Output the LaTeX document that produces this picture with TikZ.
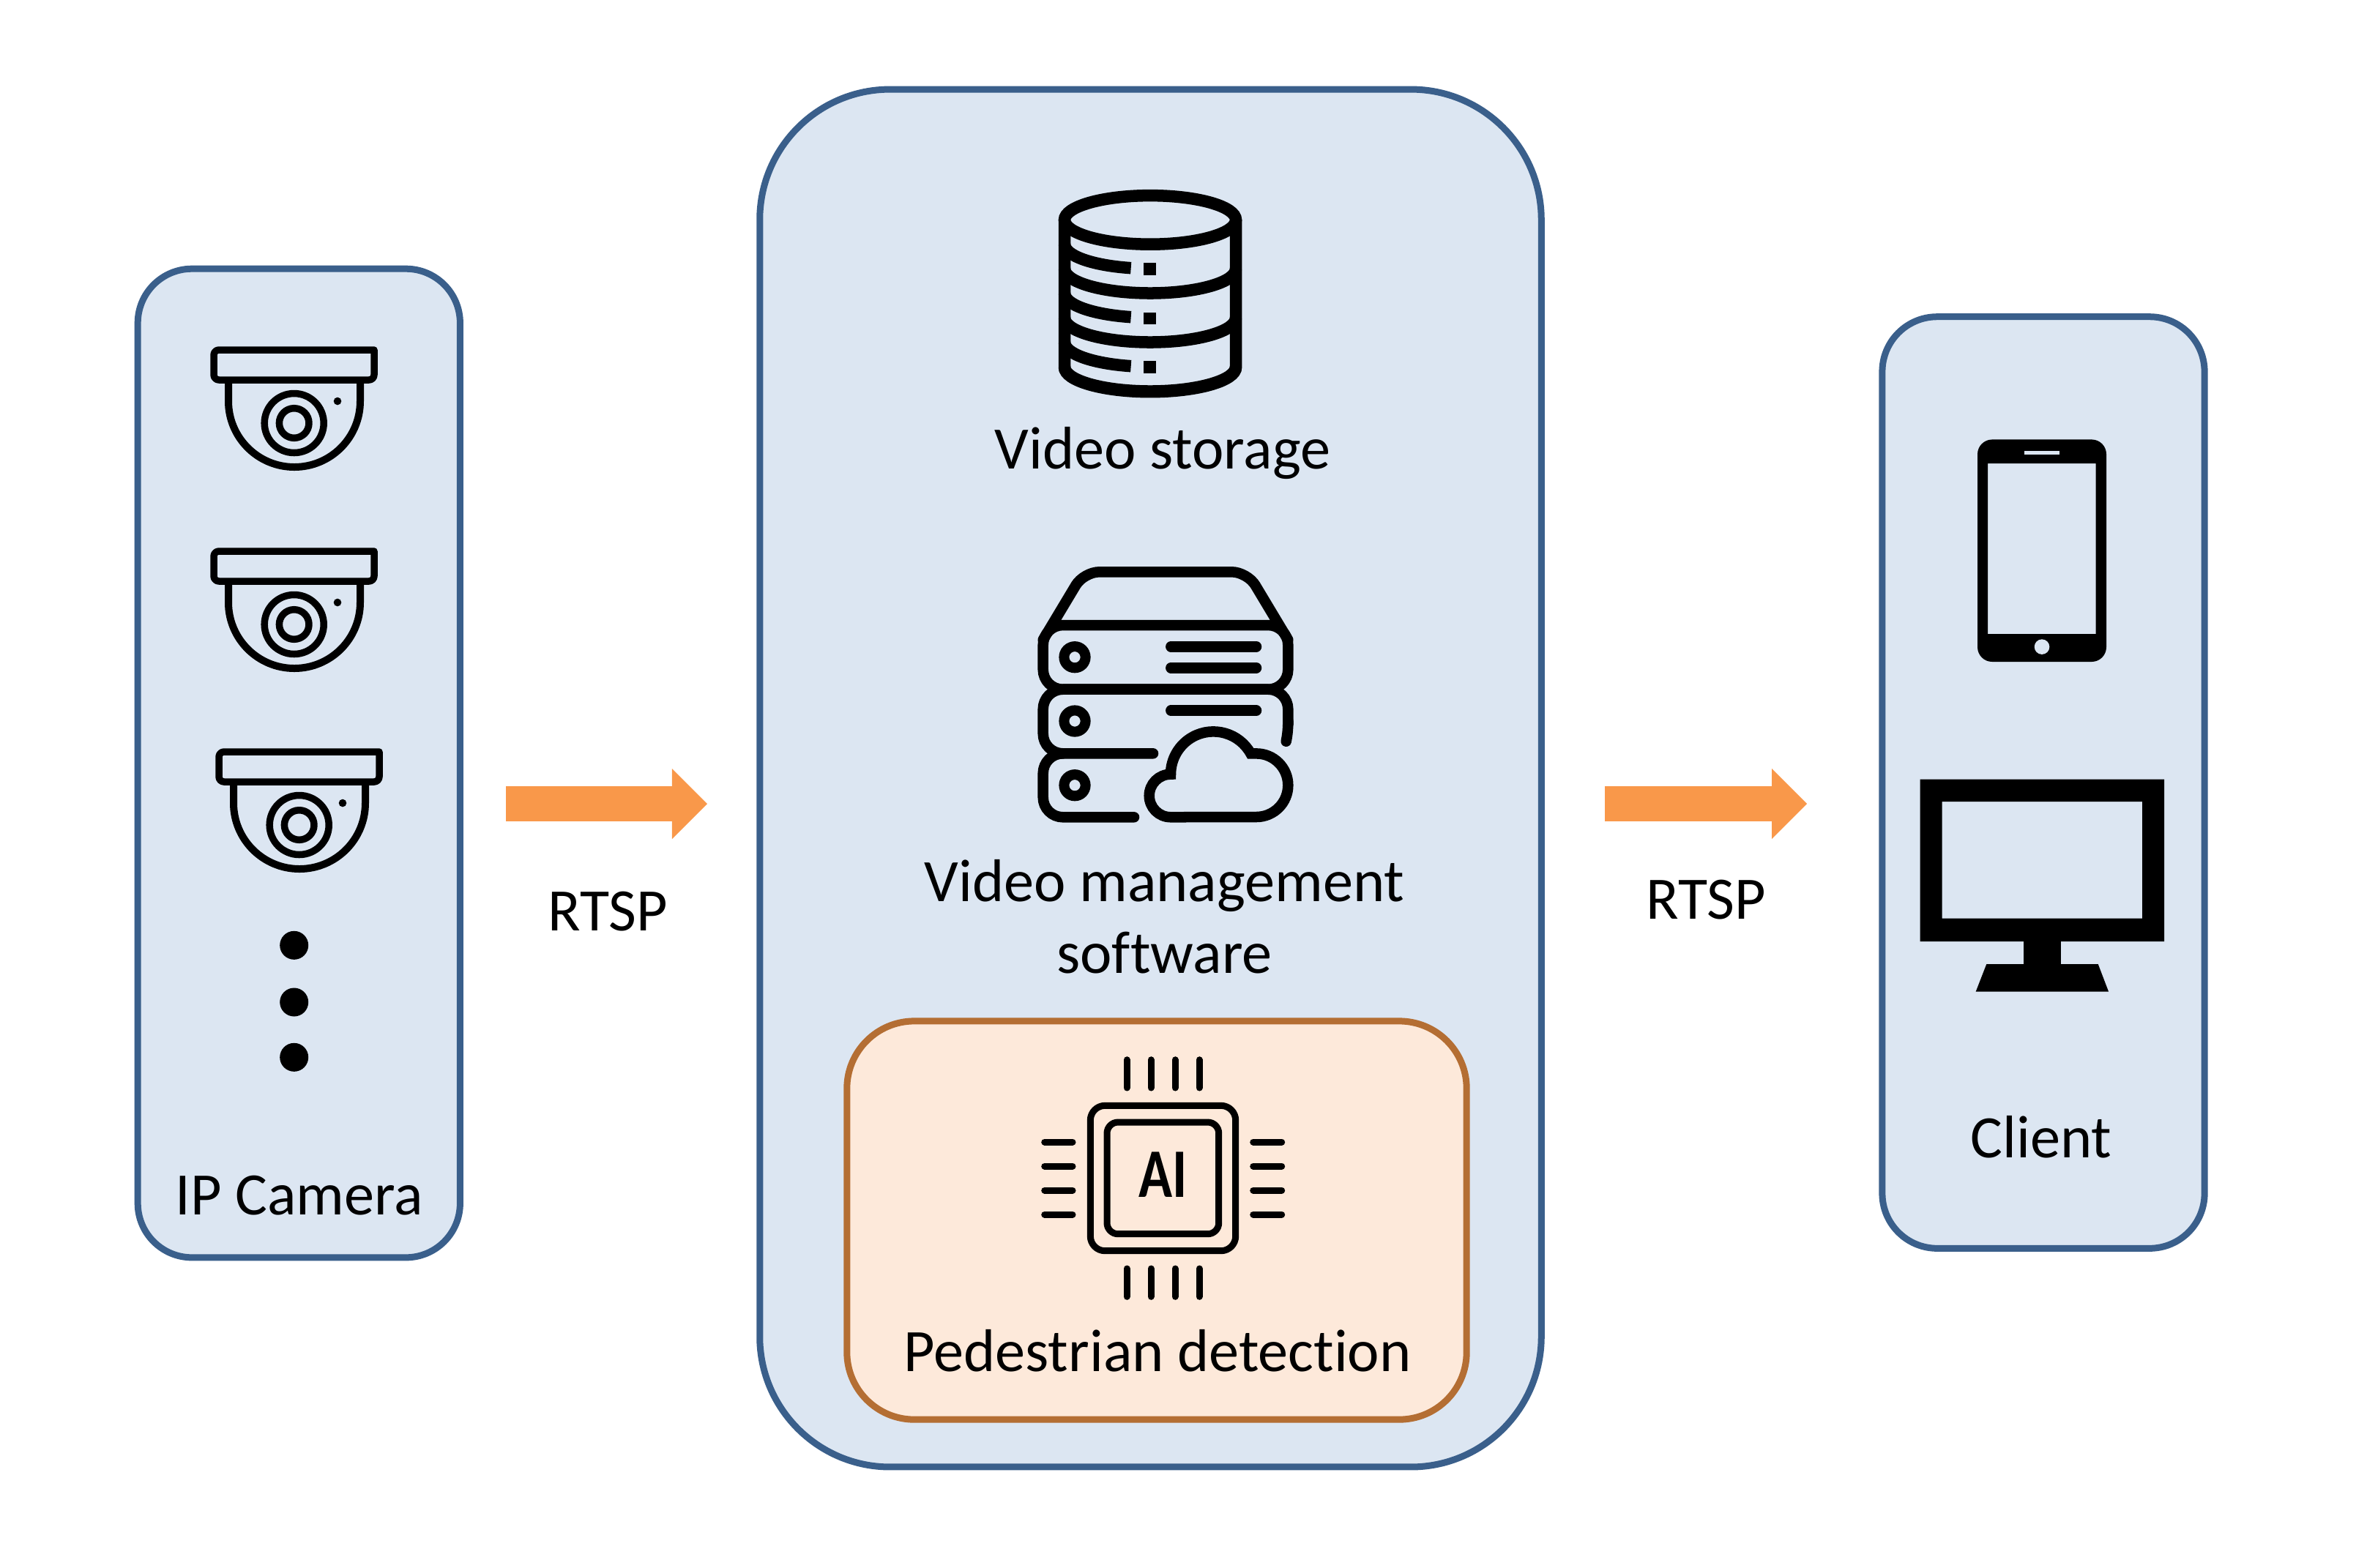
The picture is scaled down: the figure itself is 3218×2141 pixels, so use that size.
\documentclass[tikz,border=0pt]{standalone}
\usepackage{fontspec}
\setmainfont[Ligatures=CommonOff]{Carlito}
\usetikzlibrary{arrows.meta}
\newcommand{\px}{0.2845pt}
\definecolor{panelblue}{HTML}{3A5F8B}
\definecolor{panelfill}{HTML}{DCE6F2}
\definecolor{aiedge}{HTML}{B46E33}
\definecolor{aifill}{HTML}{FDE9DA}
\definecolor{rtsporange}{HTML}{F9984A}
\tikzset{
	panel/.style={draw=panelblue,fill=panelfill,line width=9*\px},
	aipanel/.style={draw=aiedge,fill=aifill,line width=9*\px},
	lbl/.style={font=\fontsize{23.4}{27.9}\selectfont,align=center,inner sep=0pt},
	icon/.style={line width=#1*\px,line cap=round,line join=round},
	flow/.style={draw=rtsporange,line width=48*\px,-{Triangle[length=48*\px,width=96*\px,line width=0pt]}}
}
\begin{document}
\begin{tikzpicture}[x=0.01cm,y=-0.01cm]
	\useasboundingbox (0,0) rectangle (3218,2141);
	% panels
	\node[panel,rounded corners=74*\px,minimum width=440*\px,minimum height=1350*\px] (cambox) at (408.3,1042.5) {};
	\node[panel,rounded corners=178*\px,minimum width=1067*\px,minimum height=1881*\px] (vmsbox) at (1571.5,1063) {};
	\node[aipanel,rounded corners=92*\px,minimum width=846*\px,minimum height=544*\px] (aibox) at (1580,1667) {};
	\node[panel,rounded corners=75*\px,minimum width=440*\px,minimum height=1272*\px] (clientbox) at (2791,1069) {};
	% arrows
	\coordinate (arrowAs) at (691,1098);
	\coordinate (arrowAe) at (966,1098);
	\coordinate (arrowBs) at (2192,1098);
	\coordinate (arrowBe) at (2468,1098);
	\draw[flow] (arrowAs) -- (arrowAe);
	\draw[flow] (arrowBs) -- (arrowBe);
	% labels
	\node[lbl] (camlabel) at (408.5,1633) {IP Camera};
	\node[lbl] (rtspA) at (830,1245) {RTSP};
	\node[lbl] (rtspB) at (2330,1229) {RTSP};
	\node[lbl] (storelabel) at (1588,618.5) {Video storage};
	\node[lbl] (vmslabel) at (1590.5,1252) {Video management\\software};
	\node[lbl] (pedlabel) at (1581,1845) {Pedestrian detection};
	\node[lbl] (clientlabel) at (2788,1553) {Client};
	% cameras
	\foreach \dx/\dy in {0/0,0/275,7/549}
		{\begin{scope}[shift={(\dx,\dy)}]
			\draw[icon=9.5] (292,478)--(511,478) [rounded corners=2pt] --(511,519)--(292,519)--cycle;
			\draw[icon=10] (312,523)--(312,548) arc[start angle=180,end angle=0,x radius=90,y radius=90]--(492,523);
			\draw[icon=9.5] (401.7,578) circle[radius=40.5];
			\draw[icon=9.5] (401.7,578) circle[radius=20.3];
			\fill (461,548) circle[radius=5.3];
		\end{scope}}
	\foreach \y in {1291.3,1369,1444.3}
		{\fill (401.7,\y) circle[radius=19.5];}
	% storage
	\draw[line width=16.5*\px] (1571,300.4) ellipse[x radius=117,y radius=33.3];
	\draw[line width=16.5*\px] (1454,300)--(1454,501.7) arc[start angle=180,end angle=0,x radius=117,y radius=33.5]--(1688,300);
	\foreach \y/\z in {367/359,434/426.7,501/493}
		{\draw[line width=16.5*\px] (1454,\y) arc[start angle=180,end angle=0,x radius=117,y radius=33.5];
		\draw[line width=16.5*\px] (1454,\y-33.5) arc[start angle=180,end angle=103,x radius=117,y radius=33.5];
		\fill (1561.7,\z) rectangle (1579.3,\z+16.7);}
	% server with cloud
	\draw[icon=14.5] (1424.7,874)[rounded corners=6pt] --(1480.3,781.3)--(1703.7,781.3)--(1759.3,874);
	\draw[icon=14.5,rounded corners=7.7pt] (1424.7,854) rectangle (1759.3,941.7);
	\foreach \y in {897.7,985,1072.7}
		{\draw[icon=14] (1468,\y) circle[radius=14.6];}
	\foreach \y in {883.3,912.3,970.7}
		{\draw[icon=14.5] (1599.3,\y)--(1716,\y);}
	\draw[icon=14.5,rounded corners=7.7pt] (1575,1029.3)--(1424.7,1029.3)--(1424.7,941.7)--(1759.3,941.7)--(1759.3,990);
	\draw[icon=14.5] (1759.3,985) .. controls (1759.3,998) and (1758,1006) .. (1756.7,1012.7);
	\draw[icon=14.5,rounded corners=7.7pt] (1549,1116.3)--(1424.7,1116.3)--(1424.7,1029.3)--(1450,1029.3);
	\draw[line width=14.5*\px,line join=miter] (1716,1116) arc[start angle=90,end angle=-90,radius=43.3]--(1708.3,1029.4)
		arc[start angle=-29,end angle=-180,radius=58.3]
		arc[start angle=-90,end angle=-270,radius=29.3]--cycle;
	% chip
	\draw[icon=9,rounded corners=5.7pt] (1489.3,1510.3) rectangle (1687.7,1708.7);
	\draw[icon=9,rounded corners=4.3pt] (1512,1533) rectangle (1664.7,1685.7);
	\foreach \x in {1539,1572,1605,1638}
		{\draw[icon=9] (\x,1447.7)--(\x,1486);
		\draw[icon=9] (\x,1733)--(\x,1771.3);}
	\foreach \y in {1560,1593,1626,1659}
		{\draw[icon=9] (1426.7,\y)--(1465,\y);
		\draw[icon=9] (1711.7,\y)--(1750.7,\y);}
	\node[font=\bfseries\fontsize{27}{30}\selectfont,inner sep=0pt,xscale=0.8,transform shape] (ailabel) at (1589,1605) {AI};
	% phone
	\fill[even odd rule,rounded corners=5.7pt] (2701,600.4) rectangle (2877,904)
		[sharp corners] (2715,633) rectangle (2862.7,866);
	\fill[panelfill] (2765,615.7) rectangle (2813.3,620.8);
	\fill[panelfill] (2789,883.6) circle[radius=10.3];
	% monitor
	\fill[even odd rule] (2622.7,1064.7) rectangle (2956,1286) (2652.7,1095) rectangle (2926,1254.5);
	\fill (2764,1286) rectangle (2815,1320);
	\fill (2713.3,1317)--(2865.7,1317)--(2880,1354.5)--(2698.7,1354.5)--cycle;
\end{tikzpicture}
\end{document}
